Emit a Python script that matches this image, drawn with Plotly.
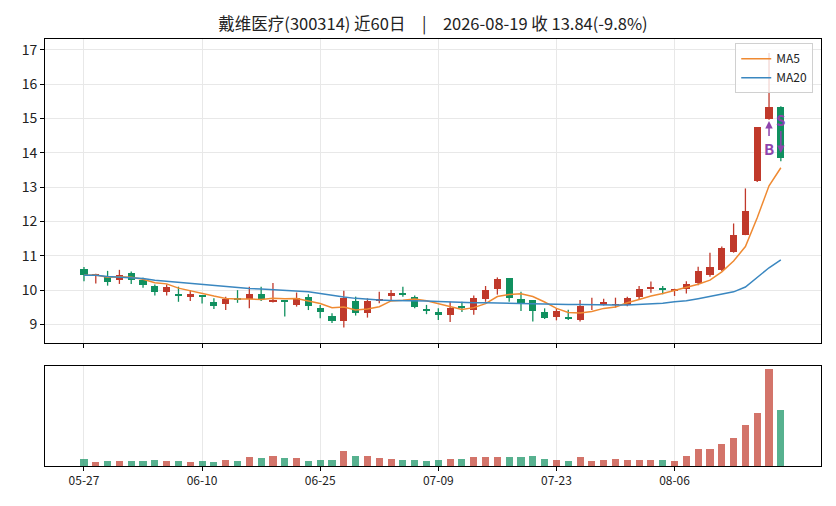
import pandas as pd
import plotly.graph_objects as go

# 戴维医疗(300314) daily bars, last 60 trading days
dates = ["05-27", "05-28", "05-29", "06-01", "06-02", "06-03", "06-04", "06-05",
         "06-08", "06-09", "06-10", "06-11", "06-12", "06-15", "06-16", "06-17",
         "06-18", "06-22", "06-23", "06-24", "06-25", "06-26", "06-29", "06-30",
         "07-01", "07-02", "07-03", "07-06", "07-07", "07-08", "07-09", "07-10",
         "07-13", "07-14", "07-15", "07-16", "07-17", "07-20", "07-21", "07-22",
         "07-23", "07-24", "07-27", "07-28", "07-29", "07-30", "07-31", "08-03",
         "08-04", "08-05", "08-06", "08-07", "08-10", "08-11", "08-12", "08-13",
         "08-14", "08-17", "08-18", "08-19"]

opens = [10.62, 10.44, 10.41, 10.29, 10.51, 10.29, 10.12, 9.95, 9.87, 9.80,
         9.84, 9.66, 9.60, 9.74, 9.73, 9.90, 9.68, 9.69, 9.57, 9.81,
         9.47, 9.26, 9.09, 9.68, 9.33, 9.70, 9.83, 9.93, 9.81, 9.44,
         9.37, 9.28, 9.51, 9.42, 9.73, 10.03, 10.34, 9.73, 9.71, 9.37,
         9.21, 9.21, 9.13, 9.58, 9.58, 9.58, 9.56, 9.80, 10.06, 10.06,
         10.00, 10.04, 10.20, 10.44, 10.59, 11.11, 11.60, 13.18, 14.98, 15.33]
highs = [10.67, 10.48, 10.56, 10.59, 10.54, 10.36, 10.16, 10.16, 10.10, 10.00,
         9.85, 9.76, 9.81, 10.00, 10.10, 10.10, 10.21, 9.69, 9.93, 9.88,
         9.57, 9.33, 9.98, 9.81, 9.76, 9.95, 10.00, 10.10, 9.84, 9.57,
         9.47, 9.66, 9.66, 9.84, 10.12, 10.37, 10.34, 9.95, 9.71, 9.47,
         9.47, 9.43, 9.71, 9.78, 9.75, 9.78, 9.81, 10.12, 10.25, 10.12,
         10.04, 10.26, 10.68, 11.09, 11.27, 11.94, 12.96, 14.74, 16.90, 15.35]
lows = [10.26, 10.19, 10.13, 10.18, 10.18, 10.07, 9.84, 9.84, 9.66, 9.68,
        9.61, 9.45, 9.42, 9.63, 9.47, 9.68, 9.64, 9.23, 9.52, 9.42,
        9.18, 9.04, 8.91, 9.26, 9.20, 9.62, 9.71, 9.81, 9.47, 9.30,
        9.13, 9.07, 9.36, 9.28, 9.66, 9.87, 9.66, 9.39, 9.09, 9.16,
        9.12, 9.13, 9.09, 9.42, 9.55, 9.49, 9.53, 9.73, 9.92, 9.88,
        9.83, 9.90, 10.14, 10.39, 10.56, 11.09, 11.60, 13.15, 14.96, 13.75]
closes = [10.43, 10.45, 10.24, 10.45, 10.29, 10.14, 9.95, 10.08, 9.83, 9.88,
          9.80, 9.54, 9.74, 9.73, 9.90, 9.74, 9.69, 9.68, 9.78, 9.54,
          9.36, 9.09, 9.78, 9.33, 9.68, 9.71, 9.93, 9.86, 9.52, 9.42,
          9.28, 9.47, 9.50, 9.78, 10.00, 10.32, 9.76, 9.60, 9.39, 9.20,
          9.39, 9.16, 9.54, 9.59, 9.66, 9.59, 9.78, 10.02, 10.08, 10.03,
          10.02, 10.17, 10.56, 10.68, 11.22, 11.60, 12.29, 14.74, 15.34, 13.84]
# volume in 万手
volumes = [2.1, 1.2, 1.5, 1.5, 1.5, 1.5, 1.8, 1.5, 1.5, 1.2,
           1.5, 1.2, 1.8, 1.5, 2.7, 2.4, 3.0, 2.4, 2.4, 1.5,
           1.8, 1.8, 4.5, 3.0, 3.0, 2.4, 2.1, 1.8, 1.8, 1.5,
           1.8, 2.1, 2.1, 2.7, 2.7, 2.7, 2.7, 2.7, 3.0, 2.1,
           1.8, 1.5, 2.7, 1.5, 1.8, 2.1, 1.8, 1.8, 1.8, 1.8,
           1.5, 3.0, 5.1, 5.1, 6.6, 8.4, 12.3, 15.9, 29.1, 16.8]
ma20 = [10.43, 10.43, 10.40, 10.38, 10.37, 10.34, 10.29, 10.26, 10.23, 10.19,
        10.15, 10.12, 10.09, 10.07, 10.05, 10.03, 10.01, 9.99, 9.98, 9.95,
        9.90, 9.84, 9.80, 9.76, 9.73, 9.71, 9.70, 9.70, 9.69, 9.68,
        9.67, 9.65, 9.64, 9.63, 9.63, 9.62, 9.61, 9.60, 9.59, 9.58,
        9.58, 9.58, 9.58, 9.57, 9.57, 9.57, 9.57, 9.58, 9.60, 9.62,
        9.66, 9.69, 9.75, 9.81, 9.87, 9.95, 10.09, 10.36, 10.65, 10.88]
tick_idx = [0, 10, 20, 30, 40, 50]
signals = [("B", 58), ("S", 59)]

RED = "#c0392b"
GREEN = "#10905f"
PURPLE = "#8e44ad"

df = pd.DataFrame({"open": opens, "high": highs, "low": lows,
                   "close": closes, "vol": volumes})
df["x"] = range(len(df))
df["up"] = df["close"] >= df["open"]
df["ma5"] = df["close"].rolling(5, min_periods=1).mean()
colors = [RED if u else GREEN for u in df["up"]]

fig = go.Figure()

# wicks
for up, col in [(True, RED), (False, GREEN)]:
    sub = df[df["up"] == up]
    wx, wy = [], []
    for _, r in sub.iterrows():
        wx += [r["x"], r["x"], None]
        wy += [r["low"], r["high"], None]
    fig.add_trace(go.Scatter(x=wx, y=wy, mode="lines", line=dict(color=col, width=1.3),
                             showlegend=False, hoverinfo="skip", xaxis="x", yaxis="y"))

# bodies
body_base = df[["open", "close"]].min(axis=1)
body_h = (df["close"] - df["open"]).abs().clip(lower=0.015)
fig.add_trace(go.Bar(x=df["x"], y=body_h, base=body_base, width=0.6,
                     marker=dict(color=colors, line=dict(width=0)),
                     showlegend=False, xaxis="x", yaxis="y"))

fig.add_trace(go.Scatter(x=df["x"], y=df["ma5"], mode="lines", name="MA5",
                         line=dict(color="#ef8a32", width=1.5), xaxis="x", yaxis="y"))
fig.add_trace(go.Scatter(x=df["x"], y=ma20, mode="lines", name="MA20",
                         line=dict(color="#3a87c0", width=1.5), xaxis="x", yaxis="y"))

# volume
fig.add_trace(go.Bar(x=df["x"], y=df["vol"], width=0.6,
                     marker=dict(color=colors, opacity=0.7, line=dict(width=0)),
                     showlegend=False, xaxis="x2", yaxis="y2"))

# buy / sell marks
for label, i in signals:
    if label == "B":
        fig.add_annotation(x=i, y=lows[i] - 0.04, ax=0, ay=27, text="<b>B</b>",
                           showarrow=True, arrowhead=2, arrowsize=1, arrowwidth=1.5,
                           arrowcolor=PURPLE, font=dict(color=PURPLE, size=15),
                           xref="x", yref="y")
    else:
        fig.add_annotation(x=i, y=closes[i] + 0.15, ax=0, ay=-34, text="<b>S</b>",
                           showarrow=True, arrowhead=2, arrowsize=1, arrowwidth=1.5,
                           arrowcolor=PURPLE, font=dict(color=PURPLE, size=15),
                           xref="x", yref="y")

pct = (closes[-1] / closes[-2] - 1) * 100
sep = "\u2003|\u2003"
title = f"戴维医疗(300314) 近60日{sep}2026-08-19 收 {closes[-1]:.2f}({pct:.1f}%)"

xr = [-3.3, 62.4]
axis_common = dict(showline=True, linecolor="black", linewidth=1, mirror=True,
                   ticks="outside", ticklen=4, tickcolor="black",
                   gridcolor="#e8e8e8", zeroline=False)

fig.update_layout(
    width=820, height=490,
    margin=dict(l=37, r=7, t=31, b=32),
    paper_bgcolor="white", plot_bgcolor="white",
    font=dict(family="Noto Sans CJK SC, Noto Sans, sans-serif", color="#222", size=12),
    title=dict(text=title, x=0.5, xref="paper", y=1 - 16 / 490, yanchor="middle",
               xanchor="center", font=dict(size=16.5, color="#222")),
    barmode="overlay", bargap=0,
    legend=dict(x=0.99, y=0.99, xanchor="right", yanchor="top",
                bgcolor="rgba(255,255,255,0.8)", bordercolor="#d0d0d0", borderwidth=1,
                font=dict(size=12)),
    xaxis=dict(domain=[0, 1], anchor="y", range=xr, tickvals=tick_idx,
               showticklabels=False, showgrid=True, **axis_common),
    yaxis=dict(domain=[0.288, 1], anchor="x", range=[8.46, 17.31],
               dtick=1, tickfont=dict(size=14), showgrid=True, **axis_common),
    xaxis2=dict(domain=[0, 1], anchor="y2", range=xr, tickvals=tick_idx,
                ticktext=[dates[i] for i in tick_idx], tickfont=dict(size=12),
                showgrid=True, **axis_common),
    yaxis2=dict(domain=[0, 0.235], anchor="x2", range=[0, max(volumes) * 1.035],
                showticklabels=False, showgrid=False,
                **{k: v for k, v in axis_common.items() if k != "ticks"}, ticks=""),
    showlegend=True,
)

fig.write_html("out.html")
